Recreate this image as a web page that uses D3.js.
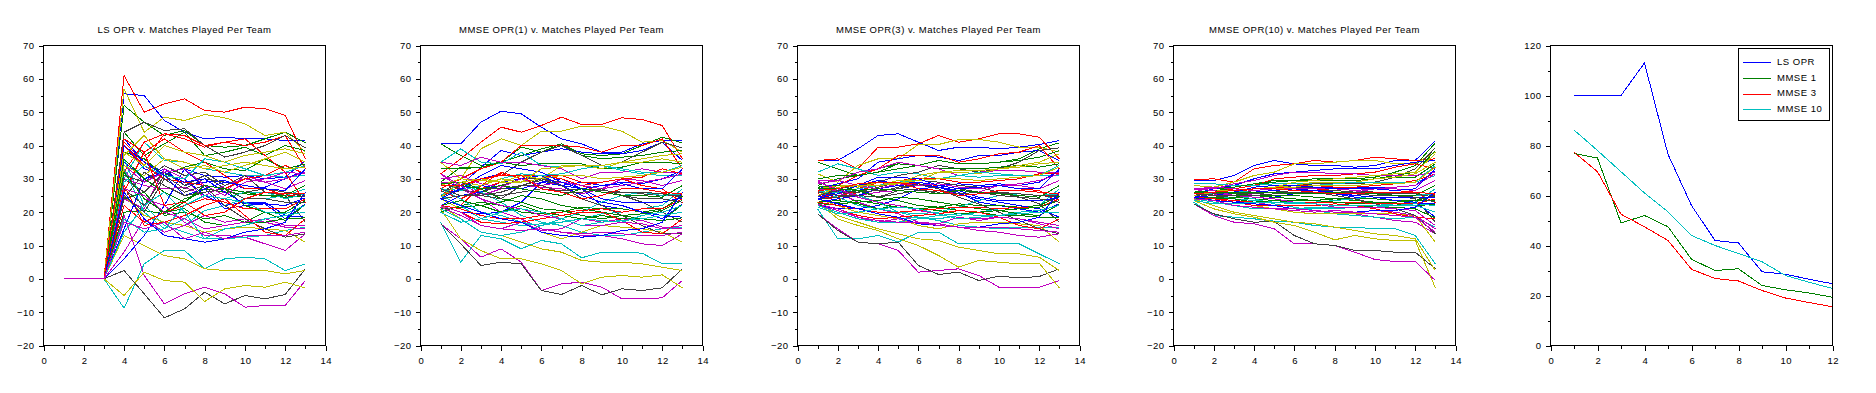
<!DOCTYPE html>
<html>
<head>
<meta charset="utf-8">
<script src="https://cdn.jsdelivr.net/npm/d3@7/dist/d3.min.js"></script>
<style>
  body { margin: 0; background: #fff; }
  svg { display: block; font-family: "Liberation Sans", Arial, sans-serif; }
  text { font-size: 9.5px; letter-spacing: 0.5px; fill: #000; }
</style>
</head>
<body>
<script>
// x 值：每支队伍已打的比赛场数
const matches = [1, 2, 3, 4, 5, 6, 7, 8, 9, 10, 11, 12, 13];

// 线条颜色循环（Scilab 默认顺序）
const teamColors = ['#0000ff', '#008000', '#ff0000', '#00bfbf', '#bf00bf', '#bfbf00', '#404040'];

// LS OPR，每行一支队伍
const lsOpr = [
  [0,0,0,55.5,55,47.5,44,42,42.5,42,42,41.5,41.5],
  [0,0,0,52,47,43,44.5,40,39.5,40,42,44,40.8],
  [0,0,0,61,50,52.5,54,50.5,50,51.5,51,49,36],
  [0,0,0,-8.8,4.5,8.5,8.5,3,6,6.5,6,2.5,4.5],
  [0,0,0,19,1,-7.5,-4.5,-2.5,-4.5,-8.5,-8,-8,-0.5],
  [0,0,0,57,44,48.5,47.5,49.3,48.3,46.5,43,44,38],
  [0,0,0,2.5,-4.5,-11.7,-9,-4,-7.5,-5,-6,-4.7,3],
  [0,0,0,42,35,32,33,31,30.5,31,30,30.5,35.5],
  [0,0,0,44,37,40.5,44,37,38,39.5,37,40,38.5],
  [0,0,0,41,35,43.5,42,39.5,41,40,41,43,33],
  [0,0,0,30,41,35.5,35,33,32,31,31,30.5,31],
  [0,0,0,33,24,22,17,13,13,12.5,10.5,8.5,13.5],
  [0,0,0,-5,2,-0.5,-1,-6.8,-3,-2,-2.5,-1,-2.7],
  [0,0,0,44,47,44.5,45,40,36.5,38,40,43,39.3],
  [0,0,0,35,30,33,28,29,29.5,27,27.5,30,32.5],
  [0,0,0,38,36,31,33.5,35,33,32.5,36,33,34.5],
  [0,0,0,26,38,42,38,35,31,27,27,25,25.3],
  [0,0,0,22,17,14,16,20.5,22,24,24,25,27],
  [0,0,0,24,21,33,30,24,26,31,29,30,32],
  [0,0,0,13,10,7,6,3,2.5,2.5,2.5,1.5,2.5],
  [0,0,0,30,26,32,28,31,27,26,27,26,25],
  [0,0,0,6,13,22,33,27,21,22,22.5,18,22.5],
  [0,0,0,20,20.5,19.5,23,27,26,25.5,25,24.5,24.8],
  [0,0,0,32,41,43.5,43,40,41,42,37,32,22.8],
  [0,0,0,36,22,16,14,12,12,12.5,13,14.5,15.5],
  [0,0,0,30,28,27,27.5,25,28,30,29,27,29.5],
  [0,0,0,25,19,17,16,14,15,15.5,15,14.5,11],
  [0,0,0,31,29,34,31,32,28,31,26,25,17],
  [0,0,0,40,33,31,30,25,22,23,23,19,18.5],
  [0,0,0,27,25,20,24,26,27,22,20,17.5,22.3],
  [0,0,0,40,34,30,29,28,27,30,31,34,31.5],
  [0,0,0,33,20,15,18,22,24,26,26,24,25.5],
  [0,0,0,8,18,14,16,19,17,18,17,15.5,15],
  [0,0,0,37,43,36,33,34,32,34,36,38,35],
  [0,0,0,27,22,31,27,30,29,28,27,26,24.5],
  [0,0,0,15,30,32,29,30,26,22.5,22.5,22,24.3],
  [0,0,0,24,26,19,20,18,19,17,17,18,18.3],
  [0,0,0,22,17,20,22,24,23,21,21,21,24],
  [0,0,0,29,34,31,30,36,35,33,31,32,34],
  [0,0,0,34,29,32,33,28,25,29,30,32,31.5],
  [0,0,0,34,31,36,35,33,34,35,34,33,33.5],
  [0,0,0,25,20,30,26,28,22,18,15,12.5,13.5],
  [0,0,0,40,35,31,25,27,29,28,27,26.5,33],
  [0,0,0,32,24,20,21,17,16,17,20,20,23.5],
  [0,0,0,28,16,17,19,22,24,19,14,13,18],
  [0,0,0,18,14,15,22,25,24,23,20,19.5,22],
  [0,0,0,27,25,20,18,15,16,17,18,16,16],
  [0,0,0,38,34,40,38,37,35,37,38,39,37.5],
  [0,0,0,24,32,28,25,26,27,24,24,23,23],
  [0,0,0,26,18,13,12,11,12,14,15,17,26],
  [0,0,0,36,30,26,23,28,27,26,25,25,28],
  [0,0,0,42,38,22,23,19,20,24,26,25.5,25.5],
  [0,0,0,14,22,26,20,12,15,16,18,19,20],
  [0,0,0,17,15,17,12,14,12,13,13,13,14]
];

// MMSE OPR(1)
const mmse1 = [
  [40.5,40.5,47,50.3,49.5,45.5,42,40.5,38,38,40.5,41.5,41.5],
  [40.5,37,34,35,39.5,38,40.5,37.5,37,37.5,40,42.5,40.8],
  [31.5,36,41,45.5,44,46,48.5,46.3,46.3,48.3,47.8,46,36],
  [17,5,13,12,9,11.5,10.5,6.3,8,8,7.7,4.5,4.5],
  [16.5,12,6.5,9,5,-3.5,-1.5,-1,-2.5,-6,-6,-5.7,-0.5],
  [35,30,39,42,40,44.3,44.3,45.8,45.8,44.3,41,41.5,38],
  [16.5,10.5,4,5,4.5,-3.5,-4.7,-2,-4.8,-3,-3.5,-2.7,3],
  [29,28,33.5,38.5,37,38,39,38,37.5,37.5,38.5,41,35.5],
  [29,33.5,33.5,35,37,39,40.5,37,36,36.5,37,38,38.5],
  [27,30,33,35,40,40,40,39.5,38,40,40,42,33],
  [35,39,35,34.5,38,34,33.5,34,34,32.5,31.5,31,31],
  [31.5,27,24,20,18,15,14,13,13,12,10.5,10,13.5],
  [21,12,8.5,6,6,4.5,2.5,-1.5,0.5,1,0.5,1.2,-2.7],
  [26,29,30,31,35,38,40,37,34,35,38,41,39.3],
  [25,27,30,31.5,30,30,28,29,28,29,28.5,30,32.5],
  [33,33,33.5,35,34,34.5,34.5,34.5,33,33.5,35,35,34.5],
  [24.5,28,29.5,31.5,30,31,30,28,26,25,26,25.5,25.3],
  [25,22,18,17,16,16.5,17,18,19.5,20,21,22,27],
  [35,34,36.5,35,35,34,33,30,32,32,33,32,32],
  [22,18,14,13,11,9,8,5.5,5,5,4.5,3.5,2.5],
  [28.5,27,25,26,28,29.5,28,27,26,26,25.5,25,25],
  [22,20,19.5,20,23,29,30,27,22,21,20,18,22.5],
  [20,22,23,22,20,19.5,20,21.5,21,21,20,21,24.8],
  [24,22,28,32,30,31,30,28,29,30,28,27,22.8],
  [25,29,26,23,19,17,16,14,13,13,14,15,15.5],
  [29,29,25,27,28,27.5,27,25.5,27,30,29.5,28,29.5],
  [24,21,19,18,17,14,12,14,16,15.5,15,14,11],
  [25,26.5,26,28,30,30,29,28,27,25,23,20,17],
  [22,25,26,29,30,31,28,25,23,22,20,19,18.5],
  [21,21.5,22,23,25,24,22,21,20,19,18,17.5,22.3],
  [26.5,24,27,29,31,31,31,29,29,30,30.5,33,31.5],
  [27,24,20,19,17,16,18,20,23,25,26,25,25.5],
  [21.5,19,16,15,17,14.5,15,18,17,18,17.5,15.5,15],
  [28,30,29.5,29,31,30,34,34,33,35,35,36,35],
  [24,25,25.5,25,26,27,26.5,27,26.5,26,26,25.5,24.5],
  [24,27,28,27,27,29,28,27,24,23,23,23,24.3],
  [22,23.5,22,20,22,20,19,18,19,18,18,17.5,18.3],
  [22,21,19,18,18,19,20,20.5,21,20,21,21,24],
  [27,26.5,28,30,31.5,31,31.5,33,34,33,32,32,34],
  [30,31,28.5,27.5,30,28,29,28,27,28,29,30,31.5],
  [28.5,29,28,30,29,30,31,31,30,30.5,31,32,33.5],
  [26,28,27,27,28,30,28,24,22,19,16,13.5,13.5],
  [24,27,31,34,33,32,29,27,28,28.5,27,27,33],
  [28.5,29,27,24,23,21,20.5,19,18,19,19.5,20.5,23.5],
  [22,20,17,16.5,17,18,19,20,20,17.5,14,13.5,18],
  [21,18,14,13,14,16,17,18,17.5,17,19,20,22],
  [31.5,28,24,22,21,19,18,16,16,17,16.5,15,16],
  [24.5,29,30,29,29,33,33.5,34,34,35,36,37,37.5],
  [27,25,25,24,28,28,26,26,27,25,24,24,23],
  [24,22,20,18,17,14,13,12.5,13,14.5,15,17,26],
  [28,28,27,28,27,26,25,27,26,25,25,24.5,28],
  [28,28,30,31,31,27,26,24,25,27,27,26,25.5],
  [20,17,18,20,21,20,18,16,17,17.5,18,19,20],
  [22,20,16,15,14.5,15,14,13.5,14,13.5,13,13,14]
];

// MMSE OPR(3)
const mmse3 = [
  [35.5,35.5,39,43,43.5,41,38.5,39.5,39.5,39,39.5,40.3,41.5],
  [35,33,31,33,34.5,34,35.5,34.5,34.5,35,36,39,40.8],
  [35.5,36,33,39.5,39.5,40.5,43,41,42,43.5,43.5,42.5,36],
  [21,12,12,13,11,14,14,10.5,10.5,10.5,10.5,7.5,4.5],
  [19.5,15,11,10.5,8.5,2,2.5,3,1,-2.5,-2.5,-2.5,-0.5],
  [31.5,29,34,36,36,40.3,40.3,41.8,41.8,41,39.5,39.5,38],
  [19.5,14.5,11,10.5,11,4,1.3,2,-0.5,0.8,0.3,0.7,3],
  [27,28.5,30,35,36,37,36.5,35.5,37,37,38,38.5,35.5],
  [28,30,31,32,34.5,34,35.5,34.5,34.5,35,35.5,36.5,38.5],
  [26,28,31,33,37,37,37,35,36,37.5,38,40,33],
  [32,34.5,33,31,32,31.5,30,31,30.5,31,31,31,31],
  [29.5,26,23,21,19.5,17,16.5,15.5,14.5,14,13,12.5,13.5],
  [23,18,16,14.5,12,10,7,3.5,5.5,5,4.5,4.7,-2.7],
  [25,27,28,29,31,32,34,33,32,33,35,38.5,39.3],
  [24,26,28,29.5,28.5,29,28,28.5,28,28.5,28,29,32.5],
  [30,31,31,32,33,34,33,33,33,33.5,34,33.5,34.5],
  [25,26,27,29,28,28.5,28,27,26,25,25.5,25,25.3],
  [24,22,20,19,18,18.5,18,19,20,21,21.5,22,27],
  [29.5,29.5,32,33,35,34,33,31,32,32.5,32.5,32,32],
  [23,19,17,15,13.5,12,11.5,9.5,8.5,7.5,7.5,6.5,2.5],
  [27,26,25,26,27.5,28.5,28,27,26,26,25.5,25,25],
  [22,21,21,22,24,27,27.5,26,23,22,21,20,22.5],
  [22.5,23,23.5,22.5,21.5,21,21.5,22.5,22,22,21.5,22,24.8],
  [25,23.5,26,29,28.5,28.5,28,27,27.5,28,27,26.5,22.8],
  [26,27,25,23,20,18.5,17.5,16,15.5,15,15.5,15.5,15.5],
  [27,26.5,25,26,26.5,27,26.5,25.5,26,28,28,27,29.5],
  [24,22,20,19,18,16,15,16.5,17,17,16.5,16,11],
  [24.5,26,26,27.5,29,29.5,29,28,27.5,26,24.5,22.5,17],
  [23,24,25,27,28,28.5,27.5,25.5,24,23,22,21,18.5],
  [22,22.5,23,23.5,24.5,24,23,22,21,20.5,19.5,19,22.3],
  [25.5,24.5,26.5,28,29.5,30,30,29,29,29.5,30,31.5,31.5],
  [26,24.5,22,21,20,19.5,20,21.5,23.5,25,25.5,25,25.5],
  [22,20.5,18.5,17,18,16.5,16.5,18.5,17.5,18.5,18,16.5,15],
  [27,28,28,28,29.5,29.5,32,32,31.5,33,33.5,34.5,35],
  [24,24.5,25,24.5,25.5,26.5,26,26.5,26,25.5,25.5,25,24.5],
  [24.5,26,27,26.5,27,28,27.5,26.5,24.5,23.5,23.5,23.5,24.3],
  [23,23.5,22.5,21,22,21,20.5,19.5,20,19,19,18.5,18.3],
  [23,22,21,20,20,20.5,21,21.5,21.5,21,21.5,21.5,24],
  [26,26,27,28,29,29.5,30,31,32,31.5,31,31,34],
  [28.5,29.5,28,27,28.5,28,28.5,27.5,27,28,28.5,29.5,31.5],
  [27.5,28,27.5,29,28.5,29.5,30,30,29.5,30,30.5,31,33.5],
  [25,26.5,26,26.5,27,28.5,27,24.5,22.5,20,17.5,15,13.5],
  [24,25.5,28,30.5,30.5,30,28,27,27.5,28,27,27,33],
  [27.5,28,26.5,24.5,23.5,22,21.5,20.5,20,20.5,21,21.5,23.5],
  [22.5,21,19,18,18.5,19,19.5,20.5,20,18.5,16,15,18],
  [22,20,18,17,17,18,19,19.5,19,19,20,20.5,22],
  [29,27,24.5,23,22,20.5,19.5,18,18,18.5,18,17,16],
  [25,27.5,28,28,28.5,31,32,32.5,32.5,33,34,35,37.5],
  [26,25,25,24.5,26.5,27,25.5,25.5,26,25,24.5,24,23],
  [24,22.5,21,19.5,18.5,16.5,16,15.5,15.5,16.5,17,18.5,26],
  [27,27,26.5,27,26.5,26,25.5,26.5,26,25.5,25,24.5,28],
  [26.5,27,28.5,29,29,27,26.5,25,25.5,26.5,26.5,26,25.5],
  [21.5,19.5,20,21,21.5,21,19.5,18,18.5,19,19.5,20,20],
  [22.5,21,18.5,17.5,17,17,16,15.5,15.5,15.5,15,14.5,14]
];

// MMSE OPR(10)
const mmse10 = [
  [29.5,29.5,31,34,35.5,34.5,34,34,33.5,34,35.5,35.5,41.5],
  [27,27,27.5,28.5,29.5,29.5,30,30,30,30.5,32,34,40.8],
  [29.8,30,29,33,34,34.5,35.5,35,35.5,36.5,36,35.5,36],
  [23,19,18.5,18,17.3,17,16,15.5,15.5,15,15,13,4.5],
  [22.5,19,17,16.5,15,10.5,10.5,10,8,5.8,5.2,5.2,-0.5],
  [28,27.5,29,31,32,34.5,34.5,35,35.5,35.5,34.5,34.5,38],
  [22.5,19.5,18,17,17.2,13,10.5,10,8.5,8.5,8,8,3],
  [25.5,27,28,30,31.5,32,32.5,33,33,33,34,35,35.5],
  [26,26.5,27,28,29,29.5,30,29.5,29.5,30,31,32,38.5],
  [25,26,27,28,30,30.5,31,31,31.5,32,33.5,34.5,33],
  [28.5,28.5,28,28,28.5,28.5,28.5,29,28.5,29,29,29,31],
  [27,25.5,24,23,22,21,20.5,20,19.5,18.5,17.5,17,13.5],
  [23.5,21,19.5,18.5,17,16,14,11.7,13,12,11.5,11.5,-2.7],
  [24.5,25.5,26,26.5,27,28,28.5,28.5,28.5,29,30.5,33,39.3],
  [24.5,25,26,27,27,27.5,27,27.5,27.5,27.5,27.5,28,32.5],
  [27,27.5,27.5,28.5,29,29.5,29.5,29.5,29.5,30,30.5,30.5,34.5],
  [25.5,26,26,27,27,27,27,26.5,26,25.5,25.5,25.5,25.3],
  [25,23.5,22,21.5,21,21,21,21,21.5,22,22.5,23,27],
  [27,27,28.5,29.5,31,32,32,31.5,31.5,31,31,31,32],
  [24,22,20,19,18,17,16.5,15.5,14.5,13.5,13,12,2.5],
  [26,25.5,25,25.5,26,26.5,26.5,26.5,26,26,25.5,25.5,25],
  [24,23.5,23,23.5,24.5,25.5,26,25.5,24.5,24,23.5,22.5,22.5],
  [24.5,24.5,24.5,24,23.5,23.5,23.5,24,24,24,23.5,23.5,24.8],
  [25.5,25,26,27,27.5,27.5,27.5,27,27,27,26.5,26,22.8],
  [26,26,25,24,22.5,21.5,20.5,19.5,19,18.5,18,18.5,15.5],
  [26,25.5,25,25.5,26,26,26,25.5,26,27,27,26.5,29.5],
  [25,24,23,22,21,20,19.5,19.5,19.5,19.5,19.5,19,11],
  [25,25.5,25.5,26.5,27,27.5,27.5,27,26.5,26,25,24,17],
  [24.5,25,25,26,26.5,27,26.5,25.5,25,24.5,23.5,23,18.5],
  [24,24,24.5,25,25,25,24.5,24,23.5,23,22.5,22,22.3],
  [25.5,25,26,27,27.5,28,28,27.5,27.5,28,28.5,29.5,31.5],
  [26,25,24,23.5,23,22.5,23,23.5,24,25,25,25,25.5],
  [24,23,22,21,21,20.5,20,20.5,20,20.5,20,19,15],
  [26,26.5,26.5,27,27.5,28,29,29,29,30,30.5,31.5,35],
  [24.5,24.5,25,25,25.5,26,26,26,26,25.5,25.5,25.5,24.5],
  [25,25.5,26,26,26,26.5,26.5,26,25,24.5,24.5,24.5,24.3],
  [24,24.5,24,23,23.5,23,22.5,22,22,21.5,21.5,21,18.3],
  [24.5,24,23.5,23,23,23,23,23,23,22.5,22.5,22.5,24],
  [25.5,25.5,26,26.5,27,27.5,28,28.5,29,29,29,29,34],
  [27,27.5,27,26.5,27,27,27,27,26.5,27,27.5,28,31.5],
  [26,26.5,26.5,27,27,27.5,28,28,28,28.5,28.5,29,33.5],
  [25,25.5,25.5,25.5,26,26.5,26,25,24,22.5,21,19,13.5],
  [24.5,25,26,27.5,28,28,27.5,27,27,27,26.5,27,33],
  [26,26.5,25.5,25,24.5,24,23.5,23,22.5,23,23,23.5,23.5],
  [24.5,24,23,22,22,22,22,22.5,22,21,19.5,18.5,18],
  [24,23,22,21,21,21,21.5,21.5,21.5,21.5,22,22.5,22],
  [27,26.5,25,24.5,24,23,22.5,21.5,21.5,21.5,21,20.5,16],
  [25,26,26.5,27,27.5,29,29.5,30,30.5,31,31.5,32,37.5],
  [25.5,25,25,25,25.5,26,25.5,25.5,25.5,25,25,24.5,23],
  [24.5,23.5,23,22.5,22,21,20.5,20,20,20.5,20.5,21.5,26],
  [26,26,26,26,26,25.5,25.5,26,25.5,25.5,25,25,28],
  [25.5,26,26.5,27,27,26.5,26,25.5,25.5,26,26,26,25.5],
  [23.5,22.5,22.5,23,23,23,22.5,22,22,22,22,22,20],
  [24,23.5,22,21.5,21,21,20.5,20,20,19.5,19,18.5,14]
];

const panelTitles = [
  'LS OPR v. Matches Played Per Team',
  'MMSE OPR(1) v. Matches Played Per Team',
  'MMSE OPR(3) v. Matches Played Per Team',
  'MMSE OPR(10) v. Matches Played Per Team'
];

// 第五幅图：误差汇总
const summaryMatches = [1, 2, 3, 4, 5, 6, 7, 8, 9, 10, 11, 12];
const summaryNames = ['LS OPR', 'MMSE 1', 'MMSE 3', 'MMSE 10'];
const summaryColors = ['#0000ff', '#008000', '#ff0000', '#00bfbf'];
const lsError = [100, 100, 100, 113, 76.5, 56, 42, 41, 29.5, 28.5, 26.5, 24.7];
const mmse1Error = [76.8, 75, 49, 52, 47.5, 34.5, 30, 30.7, 24, 22.3, 21, 19.3];
const mmse3Error = [77.3, 69.5, 52.5, 47.5, 42, 30.5, 26.8, 25.8, 22, 19, 17.2, 15.5];
const mmse10Error = [86.2, 78, 69.5, 61, 53.5, 44, 40, 36.8, 33.5, 28, 25.3, 22.8];

const width = 1876, height = 393;
const svg = d3.select('body').append('svg')
  .attr('width', width)
  .attr('height', height);
svg.append('rect').attr('width', width).attr('height', height).attr('fill', '#fff');

// 每幅子图的绘图区
const plotTop = 45.5, plotBottom = 345.5, plotW = 282, step = 376.75, firstLeft = 43.5;

const drawPanel = (i, cfg) => {
  const left = Math.round(firstLeft + i * step - 0.5) + 0.5;
  const g = svg.append('g');
  const x = d3.scaleLinear().domain(cfg.xDomain).range([left, left + plotW]);
  const y = d3.scaleLinear().domain(cfg.yDomain).range([plotBottom, plotTop]);

  // 数据线
  const line = d3.line()
    .x((d, j) => x(cfg.xs[j]))
    .y(d => y(d));
  g.append('g').selectAll('path')
    .data(cfg.series)
    .enter()
    .append('path')
    .attr('d', d => line(d.values))
    .attr('fill', 'none')
    .attr('stroke', d => d.color)
    .attr('stroke-width', 1)
    .attr('shape-rendering', 'crispEdges');

  // 边框
  g.append('rect')
    .attr('x', left).attr('y', plotTop)
    .attr('width', plotW).attr('height', plotBottom - plotTop)
    .attr('fill', 'none').attr('stroke', '#000').attr('stroke-width', 1)
    .attr('shape-rendering', 'crispEdges');

  // 主刻度 + 次刻度
  const xAxis = g.append('g').attr('transform', `translate(0,${plotBottom})`)
    .call(d3.axisBottom(x).tickValues(cfg.xMajor).tickSize(5).tickPadding(7).tickFormat(d3.format('d')));
  g.append('g').attr('transform', `translate(0,${plotBottom})`)
    .call(d3.axisBottom(x).tickValues(cfg.xMinor).tickSize(3).tickFormat(''));
  g.append('g').attr('transform', `translate(${left},0)`)
    .call(d3.axisLeft(y).tickValues(cfg.yMajor).tickSize(5).tickPadding(4).tickFormat(d3.format('d')));
  g.append('g').attr('transform', `translate(${left},0)`)
    .call(d3.axisLeft(y).tickValues(cfg.yMinor).tickSize(3).tickFormat(''));

  g.selectAll('.domain').remove();
  g.selectAll('.tick line').attr('stroke', '#000').attr('shape-rendering', 'crispEdges');
  g.selectAll('.tick text').attr('font-size', null).attr('font-family', null).attr('fill', '#000');
  xAxis.selectAll('.tick text').attr('dx', '0.3px');

  if (cfg.title) {
    g.append('text')
      .attr('x', left + plotW / 2)
      .attr('y', 32.5)
      .attr('text-anchor', 'middle')
      .text(cfg.title);
  }
  return {g, x, y, left};
};

// 前四幅：各队 OPR 轨迹
[lsOpr, mmse1, mmse3, mmse10].forEach((teams, i) => {
  drawPanel(i, {
    title: panelTitles[i],
    xs: matches,
    xDomain: [0, 14],
    yDomain: [-20, 70],
    xMajor: d3.range(0, 15, 2),
    xMinor: d3.range(1, 14, 2),
    yMajor: d3.range(-20, 71, 10),
    yMinor: d3.range(-15, 70, 10),
    series: teams.map((values, k) => ({values, color: teamColors[k % teamColors.length]}))
  });
});

// 第五幅：误差曲线 + 图例
const errors = [lsError, mmse1Error, mmse3Error, mmse10Error];
const p5 = drawPanel(4, {
  xs: summaryMatches,
  xDomain: [0, 12],
  yDomain: [0, 120],
  xMajor: d3.range(0, 13, 2),
  xMinor: d3.range(1, 12, 2),
  yMajor: d3.range(0, 121, 20),
  yMinor: d3.range(10, 120, 20),
  series: errors.map((values, k) => ({values, color: summaryColors[k]}))
});

const legend = p5.g.append('g').attr('transform', `translate(${p5.left + 188},48.5)`);
legend.append('rect')
  .attr('width', 91).attr('height', 72)
  .attr('fill', '#fff').attr('stroke', '#000').attr('stroke-width', 1)
  .attr('shape-rendering', 'crispEdges');
summaryNames.forEach((name, k) => {
  const ly = 13 + k * 15.8;
  legend.append('line')
    .attr('x1', 4).attr('x2', 32)
    .attr('y1', Math.round(ly) + 0.5).attr('y2', Math.round(ly) + 0.5)
    .attr('stroke', summaryColors[k]).attr('stroke-width', 1)
    .attr('shape-rendering', 'crispEdges');
  legend.append('text')
    .attr('x', 38.5)
    .attr('y', ly + 3.3)
    .text(name);
});
</script>
</body>
</html>
